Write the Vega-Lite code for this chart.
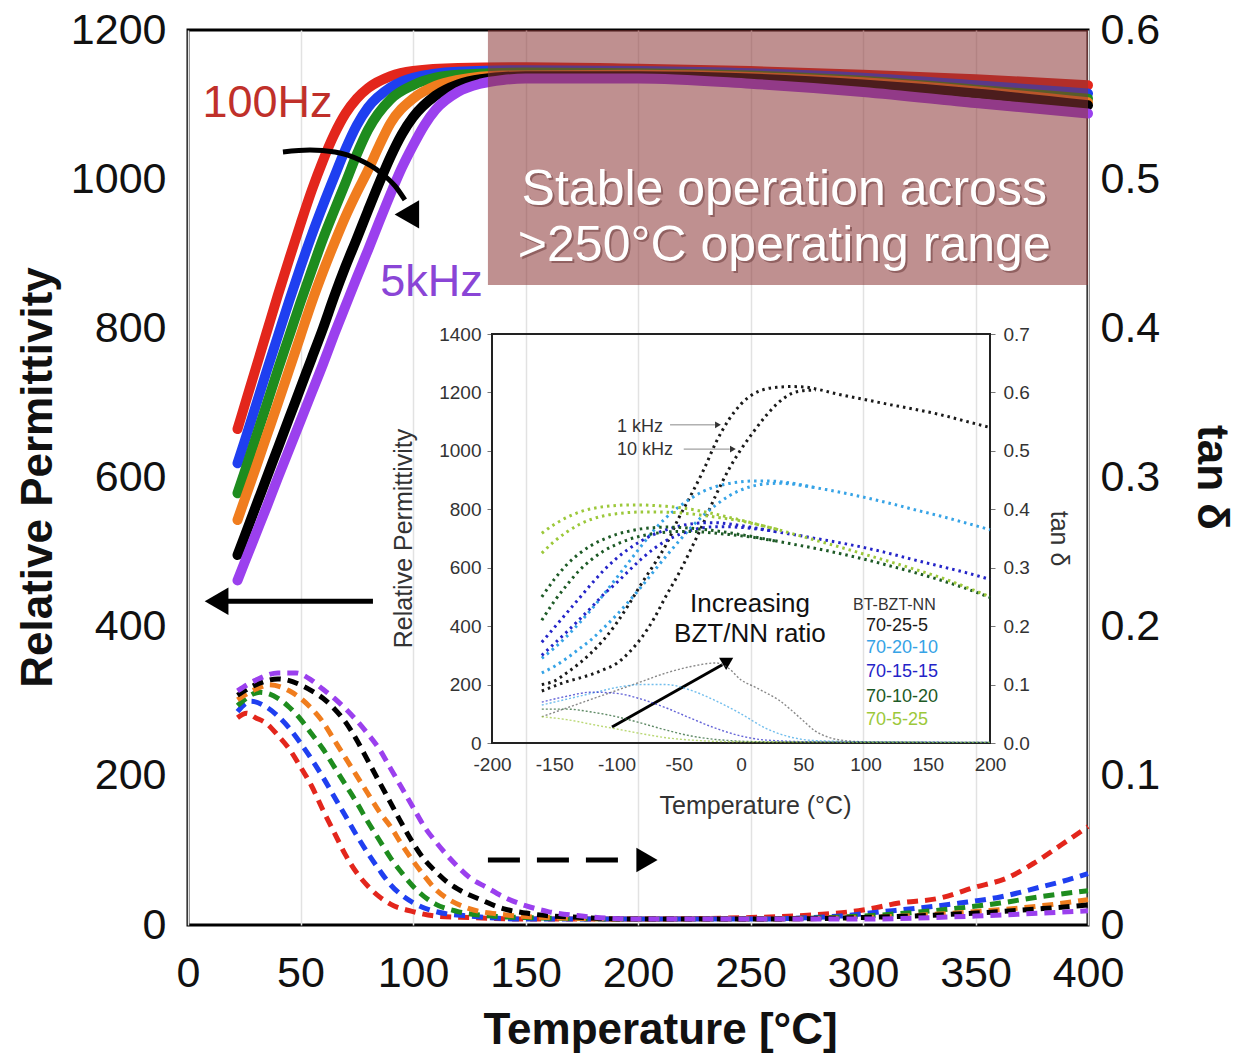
{
"$schema":"https://vega.github.io/schema/vega-lite/v6.json",
"width":900,"height":895,
"autosize":{"type":"none"},
"padding":{"left":188,"top":30,"right":148,"bottom":134},
"background":"white",
"config":{"font":"Liberation Sans","view":{"stroke":"#000","strokeWidth":3},"axis":{"labelFont":"Liberation Sans","titleFont":"Liberation Sans","labelColor":"#111","titleColor":"#111","labelFlush":false,"labelOverlap":false}},
"resolve":{"scale":{"x":"independent","y":"independent","color":"independent"}},
"datasets":{
"mainEps":[
{"s":"100Hz","T":22,"v":665},{"s":"100Hz","T":25,"v":695},{"s":"100Hz","T":30,"v":745},{"s":"100Hz","T":35,"v":795},{"s":"100Hz","T":40,"v":845},{"s":"100Hz","T":45,"v":893},{"s":"100Hz","T":50,"v":940},{"s":"100Hz","T":55,"v":985},{"s":"100Hz","T":60,"v":1025},{"s":"100Hz","T":65,"v":1060},{"s":"100Hz","T":70,"v":1088},{"s":"100Hz","T":75,"v":1108},{"s":"100Hz","T":80,"v":1122},{"s":"100Hz","T":90,"v":1138},{"s":"100Hz","T":100,"v":1145},{"s":"100Hz","T":120,"v":1149},{"s":"100Hz","T":150,"v":1150},{"s":"100Hz","T":200,"v":1148},{"s":"100Hz","T":250,"v":1145},{"s":"100Hz","T":300,"v":1140},{"s":"100Hz","T":350,"v":1134},{"s":"100Hz","T":400,"v":1126},
{"s":"f2","T":22,"v":619},{"s":"f2","T":25,"v":647},{"s":"f2","T":30,"v":695},{"s":"f2","T":35,"v":743},{"s":"f2","T":40,"v":790},{"s":"f2","T":45,"v":837},{"s":"f2","T":50,"v":882},{"s":"f2","T":55,"v":925},{"s":"f2","T":60,"v":965},{"s":"f2","T":65,"v":1003},{"s":"f2","T":70,"v":1040},{"s":"f2","T":75,"v":1072},{"s":"f2","T":80,"v":1096},{"s":"f2","T":90,"v":1123},{"s":"f2","T":100,"v":1136},{"s":"f2","T":120,"v":1144},{"s":"f2","T":150,"v":1146},{"s":"f2","T":200,"v":1145},{"s":"f2","T":250,"v":1142},{"s":"f2","T":300,"v":1136},{"s":"f2","T":350,"v":1126},{"s":"f2","T":400,"v":1115},
{"s":"f3","T":22,"v":579},{"s":"f3","T":25,"v":606},{"s":"f3","T":30,"v":652},{"s":"f3","T":35,"v":698},{"s":"f3","T":40,"v":745},{"s":"f3","T":45,"v":790},{"s":"f3","T":50,"v":835},{"s":"f3","T":55,"v":878},{"s":"f3","T":60,"v":920},{"s":"f3","T":65,"v":958},{"s":"f3","T":70,"v":995},{"s":"f3","T":75,"v":1033},{"s":"f3","T":80,"v":1066},{"s":"f3","T":90,"v":1107},{"s":"f3","T":100,"v":1126},{"s":"f3","T":110,"v":1136},{"s":"f3","T":120,"v":1140},{"s":"f3","T":150,"v":1143},{"s":"f3","T":200,"v":1142},{"s":"f3","T":250,"v":1139},{"s":"f3","T":300,"v":1132},{"s":"f3","T":350,"v":1120},{"s":"f3","T":400,"v":1108},
{"s":"f4","T":22,"v":543},{"s":"f4","T":25,"v":569},{"s":"f4","T":30,"v":612},{"s":"f4","T":35,"v":656},{"s":"f4","T":40,"v":700},{"s":"f4","T":45,"v":745},{"s":"f4","T":50,"v":790},{"s":"f4","T":55,"v":835},{"s":"f4","T":60,"v":876},{"s":"f4","T":65,"v":914},{"s":"f4","T":70,"v":950},{"s":"f4","T":75,"v":982},{"s":"f4","T":80,"v":1012},{"s":"f4","T":85,"v":1045},{"s":"f4","T":90,"v":1075},{"s":"f4","T":100,"v":1108},{"s":"f4","T":110,"v":1125},{"s":"f4","T":120,"v":1133},{"s":"f4","T":140,"v":1139},{"s":"f4","T":200,"v":1140},{"s":"f4","T":250,"v":1137},{"s":"f4","T":300,"v":1130},{"s":"f4","T":350,"v":1118},{"s":"f4","T":400,"v":1103},
{"s":"f5","T":22,"v":496},{"s":"f5","T":25,"v":520},{"s":"f5","T":30,"v":560},{"s":"f5","T":35,"v":600},{"s":"f5","T":40,"v":640},{"s":"f5","T":45,"v":680},{"s":"f5","T":50,"v":720},{"s":"f5","T":55,"v":760},{"s":"f5","T":60,"v":800},{"s":"f5","T":65,"v":843},{"s":"f5","T":70,"v":883},{"s":"f5","T":75,"v":920},{"s":"f5","T":80,"v":958},{"s":"f5","T":85,"v":995},{"s":"f5","T":90,"v":1030},{"s":"f5","T":95,"v":1060},{"s":"f5","T":100,"v":1083},{"s":"f5","T":110,"v":1112},{"s":"f5","T":120,"v":1127},{"s":"f5","T":130,"v":1134},{"s":"f5","T":150,"v":1138},{"s":"f5","T":200,"v":1138},{"s":"f5","T":250,"v":1135},{"s":"f5","T":300,"v":1127},{"s":"f5","T":350,"v":1115},{"s":"f5","T":400,"v":1099},
{"s":"5kHz","T":22,"v":462},{"s":"5kHz","T":25,"v":485},{"s":"5kHz","T":30,"v":523},{"s":"5kHz","T":35,"v":561},{"s":"5kHz","T":40,"v":600},{"s":"5kHz","T":45,"v":638},{"s":"5kHz","T":50,"v":676},{"s":"5kHz","T":55,"v":714},{"s":"5kHz","T":60,"v":752},{"s":"5kHz","T":65,"v":792},{"s":"5kHz","T":70,"v":830},{"s":"5kHz","T":75,"v":868},{"s":"5kHz","T":80,"v":905},{"s":"5kHz","T":85,"v":943},{"s":"5kHz","T":90,"v":980},{"s":"5kHz","T":95,"v":1015},{"s":"5kHz","T":100,"v":1045},{"s":"5kHz","T":105,"v":1072},{"s":"5kHz","T":110,"v":1093},{"s":"5kHz","T":120,"v":1117},{"s":"5kHz","T":130,"v":1128},{"s":"5kHz","T":140,"v":1133},{"s":"5kHz","T":150,"v":1135},{"s":"5kHz","T":200,"v":1135},{"s":"5kHz","T":250,"v":1128},{"s":"5kHz","T":300,"v":1117},{"s":"5kHz","T":350,"v":1102},{"s":"5kHz","T":400,"v":1088}
],
"mainTan":[
{"s":"100Hz","T":22,"t":0.139},{"s":"100Hz","T":26,"t":0.142},{"s":"100Hz","T":30,"t":0.139},{"s":"100Hz","T":35,"t":0.135},{"s":"100Hz","T":40,"t":0.127},{"s":"100Hz","T":45,"t":0.118},{"s":"100Hz","T":50,"t":0.106},{"s":"100Hz","T":55,"t":0.093},{"s":"100Hz","T":60,"t":0.077},{"s":"100Hz","T":65,"t":0.062},{"s":"100Hz","T":70,"t":0.047},{"s":"100Hz","T":75,"t":0.035},{"s":"100Hz","T":80,"t":0.026},{"s":"100Hz","T":85,"t":0.019},{"s":"100Hz","T":90,"t":0.014},{"s":"100Hz","T":100,"t":0.009},{"s":"100Hz","T":110,"t":0.006},{"s":"100Hz","T":125,"t":0.005},{"s":"100Hz","T":150,"t":0.004},{"s":"100Hz","T":200,"t":0.004},{"s":"100Hz","T":250,"t":0.005},{"s":"100Hz","T":280,"t":0.007},{"s":"100Hz","T":300,"t":0.010},{"s":"100Hz","T":316,"t":0.0147},{"s":"100Hz","T":334,"t":0.018},{"s":"100Hz","T":349,"t":0.025},{"s":"100Hz","T":364,"t":0.0315},{"s":"100Hz","T":376,"t":0.0415},{"s":"100Hz","T":388,"t":0.0536},{"s":"100Hz","T":400,"t":0.066},
{"s":"f2","T":22,"t":0.143},{"s":"f2","T":28,"t":0.150},{"s":"f2","T":35,"t":0.146},{"s":"f2","T":40,"t":0.140},{"s":"f2","T":45,"t":0.132},{"s":"f2","T":50,"t":0.122},{"s":"f2","T":55,"t":0.111},{"s":"f2","T":60,"t":0.099},{"s":"f2","T":65,"t":0.086},{"s":"f2","T":70,"t":0.073},{"s":"f2","T":75,"t":0.060},{"s":"f2","T":80,"t":0.048},{"s":"f2","T":85,"t":0.037},{"s":"f2","T":90,"t":0.027},{"s":"f2","T":95,"t":0.020},{"s":"f2","T":100,"t":0.015},{"s":"f2","T":110,"t":0.009},{"s":"f2","T":125,"t":0.006},{"s":"f2","T":150,"t":0.004},{"s":"f2","T":200,"t":0.004},{"s":"f2","T":250,"t":0.004},{"s":"f2","T":290,"t":0.006},{"s":"f2","T":307,"t":0.0087},{"s":"f2","T":325,"t":0.0114},{"s":"f2","T":343,"t":0.0147},{"s":"f2","T":361,"t":0.0188},{"s":"f2","T":379,"t":0.0255},{"s":"f2","T":388,"t":0.029},{"s":"f2","T":400,"t":0.0345},
{"s":"f3","T":22,"t":0.147},{"s":"f3","T":32,"t":0.156},{"s":"f3","T":40,"t":0.152},{"s":"f3","T":45,"t":0.146},{"s":"f3","T":50,"t":0.138},{"s":"f3","T":55,"t":0.128},{"s":"f3","T":60,"t":0.118},{"s":"f3","T":65,"t":0.106},{"s":"f3","T":70,"t":0.094},{"s":"f3","T":75,"t":0.082},{"s":"f3","T":80,"t":0.069},{"s":"f3","T":85,"t":0.057},{"s":"f3","T":90,"t":0.045},{"s":"f3","T":95,"t":0.035},{"s":"f3","T":100,"t":0.026},{"s":"f3","T":105,"t":0.019},{"s":"f3","T":110,"t":0.014},{"s":"f3","T":120,"t":0.009},{"s":"f3","T":135,"t":0.006},{"s":"f3","T":150,"t":0.005},{"s":"f3","T":200,"t":0.004},{"s":"f3","T":250,"t":0.004},{"s":"f3","T":300,"t":0.006},{"s":"f3","T":343,"t":0.0114},{"s":"f3","T":361,"t":0.0147},{"s":"f3","T":378,"t":0.0188},{"s":"f3","T":400,"t":0.023},
{"s":"f4","T":22,"t":0.151},{"s":"f4","T":30,"t":0.158},{"s":"f4","T":36,"t":0.161},{"s":"f4","T":45,"t":0.157},{"s":"f4","T":50,"t":0.152},{"s":"f4","T":55,"t":0.145},{"s":"f4","T":60,"t":0.136},{"s":"f4","T":65,"t":0.124},{"s":"f4","T":70,"t":0.112},{"s":"f4","T":75,"t":0.100},{"s":"f4","T":80,"t":0.088},{"s":"f4","T":85,"t":0.076},{"s":"f4","T":90,"t":0.066},{"s":"f4","T":95,"t":0.054},{"s":"f4","T":100,"t":0.043},{"s":"f4","T":105,"t":0.033},{"s":"f4","T":110,"t":0.024},{"s":"f4","T":115,"t":0.018},{"s":"f4","T":125,"t":0.011},{"s":"f4","T":140,"t":0.007},{"s":"f4","T":160,"t":0.005},{"s":"f4","T":200,"t":0.004},{"s":"f4","T":250,"t":0.004},{"s":"f4","T":300,"t":0.005},{"s":"f4","T":350,"t":0.009},{"s":"f4","T":380,"t":0.013},{"s":"f4","T":400,"t":0.017},
{"s":"f5","T":22,"t":0.154},{"s":"f5","T":30,"t":0.161},{"s":"f5","T":40,"t":0.165},{"s":"f5","T":50,"t":0.161},{"s":"f5","T":55,"t":0.157},{"s":"f5","T":60,"t":0.152},{"s":"f5","T":65,"t":0.145},{"s":"f5","T":70,"t":0.136},{"s":"f5","T":75,"t":0.124},{"s":"f5","T":80,"t":0.110},{"s":"f5","T":85,"t":0.096},{"s":"f5","T":90,"t":0.082},{"s":"f5","T":95,"t":0.068},{"s":"f5","T":100,"t":0.055},{"s":"f5","T":105,"t":0.044},{"s":"f5","T":110,"t":0.036},{"s":"f5","T":115,"t":0.029},{"s":"f5","T":120,"t":0.024},{"s":"f5","T":130,"t":0.017},{"s":"f5","T":140,"t":0.011},{"s":"f5","T":150,"t":0.008},{"s":"f5","T":175,"t":0.005},{"s":"f5","T":200,"t":0.004},{"s":"f5","T":250,"t":0.004},{"s":"f5","T":300,"t":0.005},{"s":"f5","T":350,"t":0.008},{"s":"f5","T":380,"t":0.011},{"s":"f5","T":400,"t":0.0134},
{"s":"5kHz","T":22,"t":0.157},{"s":"5kHz","T":30,"t":0.164},{"s":"5kHz","T":40,"t":0.169},{"s":"5kHz","T":48,"t":0.169},{"s":"5kHz","T":55,"t":0.164},{"s":"5kHz","T":60,"t":0.158},{"s":"5kHz","T":65,"t":0.152},{"s":"5kHz","T":70,"t":0.145},{"s":"5kHz","T":75,"t":0.137},{"s":"5kHz","T":80,"t":0.128},{"s":"5kHz","T":85,"t":0.118},{"s":"5kHz","T":90,"t":0.105},{"s":"5kHz","T":95,"t":0.092},{"s":"5kHz","T":100,"t":0.079},{"s":"5kHz","T":105,"t":0.066},{"s":"5kHz","T":110,"t":0.056},{"s":"5kHz","T":115,"t":0.047},{"s":"5kHz","T":120,"t":0.039},{"s":"5kHz","T":125,"t":0.032},{"s":"5kHz","T":133,"t":0.025},{"s":"5kHz","T":140,"t":0.019},{"s":"5kHz","T":150,"t":0.013},{"s":"5kHz","T":160,"t":0.009},{"s":"5kHz","T":175,"t":0.006},{"s":"5kHz","T":200,"t":0.004},{"s":"5kHz","T":250,"t":0.004},{"s":"5kHz","T":300,"t":0.004},{"s":"5kHz","T":350,"t":0.006},{"s":"5kHz","T":380,"t":0.008},{"s":"5kHz","T":400,"t":0.0095}
],
"insetEps":[
{"c":"70-25-5","f":"1k","Ti":-160,"e":200},{"c":"70-25-5","f":"1k","Ti":-150,"e":212},{"c":"70-25-5","f":"1k","Ti":-140,"e":240},{"c":"70-25-5","f":"1k","Ti":-130,"e":272},{"c":"70-25-5","f":"1k","Ti":-120,"e":310},{"c":"70-25-5","f":"1k","Ti":-110,"e":355},{"c":"70-25-5","f":"1k","Ti":-100,"e":410},{"c":"70-25-5","f":"1k","Ti":-90,"e":475},{"c":"70-25-5","f":"1k","Ti":-80,"e":545},{"c":"70-25-5","f":"1k","Ti":-70,"e":610},{"c":"70-25-5","f":"1k","Ti":-60,"e":680},{"c":"70-25-5","f":"1k","Ti":-50,"e":770},{"c":"70-25-5","f":"1k","Ti":-40,"e":850},{"c":"70-25-5","f":"1k","Ti":-30,"e":935},{"c":"70-25-5","f":"1k","Ti":-20,"e":1030},{"c":"70-25-5","f":"1k","Ti":-10,"e":1105},{"c":"70-25-5","f":"1k","Ti":0,"e":1160},{"c":"70-25-5","f":"1k","Ti":10,"e":1195},{"c":"70-25-5","f":"1k","Ti":20,"e":1212},{"c":"70-25-5","f":"1k","Ti":30,"e":1218},{"c":"70-25-5","f":"1k","Ti":40,"e":1220},{"c":"70-25-5","f":"1k","Ti":50,"e":1219},{"c":"70-25-5","f":"1k","Ti":60,"e":1212},{"c":"70-25-5","f":"1k","Ti":80,"e":1192},{"c":"70-25-5","f":"1k","Ti":100,"e":1175},{"c":"70-25-5","f":"1k","Ti":120,"e":1158},{"c":"70-25-5","f":"1k","Ti":140,"e":1142},{"c":"70-25-5","f":"1k","Ti":160,"e":1124},{"c":"70-25-5","f":"1k","Ti":180,"e":1102},{"c":"70-25-5","f":"1k","Ti":200,"e":1080},
{"c":"70-25-5","f":"10k","Ti":-160,"e":178},{"c":"70-25-5","f":"10k","Ti":-150,"e":195},{"c":"70-25-5","f":"10k","Ti":-140,"e":210},{"c":"70-25-5","f":"10k","Ti":-130,"e":222},{"c":"70-25-5","f":"10k","Ti":-120,"e":235},{"c":"70-25-5","f":"10k","Ti":-110,"e":252},{"c":"70-25-5","f":"10k","Ti":-100,"e":272},{"c":"70-25-5","f":"10k","Ti":-90,"e":310},{"c":"70-25-5","f":"10k","Ti":-80,"e":360},{"c":"70-25-5","f":"10k","Ti":-70,"e":425},{"c":"70-25-5","f":"10k","Ti":-60,"e":505},{"c":"70-25-5","f":"10k","Ti":-50,"e":580},{"c":"70-25-5","f":"10k","Ti":-40,"e":665},{"c":"70-25-5","f":"10k","Ti":-30,"e":755},{"c":"70-25-5","f":"10k","Ti":-20,"e":850},{"c":"70-25-5","f":"10k","Ti":-10,"e":935},{"c":"70-25-5","f":"10k","Ti":0,"e":1005},{"c":"70-25-5","f":"10k","Ti":10,"e":1065},{"c":"70-25-5","f":"10k","Ti":20,"e":1120},{"c":"70-25-5","f":"10k","Ti":30,"e":1165},{"c":"70-25-5","f":"10k","Ti":40,"e":1195},{"c":"70-25-5","f":"10k","Ti":50,"e":1206},{"c":"70-25-5","f":"10k","Ti":60,"e":1208},
{"c":"70-20-10","f":"1k","Ti":-160,"e":290},{"c":"70-20-10","f":"1k","Ti":-150,"e":325},{"c":"70-20-10","f":"1k","Ti":-140,"e":365},{"c":"70-20-10","f":"1k","Ti":-130,"e":410},{"c":"70-20-10","f":"1k","Ti":-120,"e":458},{"c":"70-20-10","f":"1k","Ti":-110,"e":510},{"c":"70-20-10","f":"1k","Ti":-100,"e":565},{"c":"70-20-10","f":"1k","Ti":-90,"e":620},{"c":"70-20-10","f":"1k","Ti":-80,"e":675},{"c":"70-20-10","f":"1k","Ti":-70,"e":728},{"c":"70-20-10","f":"1k","Ti":-60,"e":772},{"c":"70-20-10","f":"1k","Ti":-50,"e":808},{"c":"70-20-10","f":"1k","Ti":-40,"e":838},{"c":"70-20-10","f":"1k","Ti":-30,"e":862},{"c":"70-20-10","f":"1k","Ti":-20,"e":878},{"c":"70-20-10","f":"1k","Ti":-10,"e":888},{"c":"70-20-10","f":"1k","Ti":0,"e":894},{"c":"70-20-10","f":"1k","Ti":10,"e":897},{"c":"70-20-10","f":"1k","Ti":20,"e":897},{"c":"70-20-10","f":"1k","Ti":30,"e":895},{"c":"70-20-10","f":"1k","Ti":40,"e":890},{"c":"70-20-10","f":"1k","Ti":50,"e":882},{"c":"70-20-10","f":"1k","Ti":60,"e":874},{"c":"70-20-10","f":"1k","Ti":80,"e":858},{"c":"70-20-10","f":"1k","Ti":100,"e":840},{"c":"70-20-10","f":"1k","Ti":120,"e":820},{"c":"70-20-10","f":"1k","Ti":140,"e":798},{"c":"70-20-10","f":"1k","Ti":160,"e":777},{"c":"70-20-10","f":"1k","Ti":180,"e":754},{"c":"70-20-10","f":"1k","Ti":200,"e":730},
{"c":"70-20-10","f":"10k","Ti":-160,"e":240},{"c":"70-20-10","f":"10k","Ti":-150,"e":262},{"c":"70-20-10","f":"10k","Ti":-140,"e":290},{"c":"70-20-10","f":"10k","Ti":-130,"e":322},{"c":"70-20-10","f":"10k","Ti":-120,"e":355},{"c":"70-20-10","f":"10k","Ti":-110,"e":395},{"c":"70-20-10","f":"10k","Ti":-100,"e":438},{"c":"70-20-10","f":"10k","Ti":-90,"e":485},{"c":"70-20-10","f":"10k","Ti":-80,"e":535},{"c":"70-20-10","f":"10k","Ti":-70,"e":588},{"c":"70-20-10","f":"10k","Ti":-60,"e":640},{"c":"70-20-10","f":"10k","Ti":-50,"e":690},{"c":"70-20-10","f":"10k","Ti":-40,"e":738},{"c":"70-20-10","f":"10k","Ti":-30,"e":780},{"c":"70-20-10","f":"10k","Ti":-20,"e":815},{"c":"70-20-10","f":"10k","Ti":-10,"e":845},{"c":"70-20-10","f":"10k","Ti":0,"e":866},{"c":"70-20-10","f":"10k","Ti":10,"e":880},{"c":"70-20-10","f":"10k","Ti":20,"e":887},{"c":"70-20-10","f":"10k","Ti":30,"e":889},{"c":"70-20-10","f":"10k","Ti":40,"e":887},{"c":"70-20-10","f":"10k","Ti":50,"e":881},{"c":"70-20-10","f":"10k","Ti":60,"e":874},
{"c":"70-15-15","f":"1k","Ti":-160,"e":345},{"c":"70-15-15","f":"1k","Ti":-150,"e":395},{"c":"70-15-15","f":"1k","Ti":-140,"e":445},{"c":"70-15-15","f":"1k","Ti":-130,"e":495},{"c":"70-15-15","f":"1k","Ti":-120,"e":545},{"c":"70-15-15","f":"1k","Ti":-110,"e":592},{"c":"70-15-15","f":"1k","Ti":-100,"e":632},{"c":"70-15-15","f":"1k","Ti":-90,"e":665},{"c":"70-15-15","f":"1k","Ti":-80,"e":692},{"c":"70-15-15","f":"1k","Ti":-70,"e":714},{"c":"70-15-15","f":"1k","Ti":-60,"e":730},{"c":"70-15-15","f":"1k","Ti":-50,"e":742},{"c":"70-15-15","f":"1k","Ti":-40,"e":750},{"c":"70-15-15","f":"1k","Ti":-30,"e":754},{"c":"70-15-15","f":"1k","Ti":-20,"e":754},{"c":"70-15-15","f":"1k","Ti":-10,"e":750},{"c":"70-15-15","f":"1k","Ti":0,"e":744},{"c":"70-15-15","f":"1k","Ti":10,"e":737},{"c":"70-15-15","f":"1k","Ti":20,"e":730},{"c":"70-15-15","f":"1k","Ti":30,"e":722},{"c":"70-15-15","f":"1k","Ti":40,"e":715},{"c":"70-15-15","f":"1k","Ti":50,"e":708},{"c":"70-15-15","f":"1k","Ti":60,"e":700},{"c":"70-15-15","f":"1k","Ti":80,"e":685},{"c":"70-15-15","f":"1k","Ti":100,"e":668},{"c":"70-15-15","f":"1k","Ti":120,"e":648},{"c":"70-15-15","f":"1k","Ti":140,"e":626},{"c":"70-15-15","f":"1k","Ti":160,"e":605},{"c":"70-15-15","f":"1k","Ti":180,"e":584},{"c":"70-15-15","f":"1k","Ti":200,"e":560},
{"c":"70-15-15","f":"10k","Ti":-160,"e":300},{"c":"70-15-15","f":"10k","Ti":-150,"e":340},{"c":"70-15-15","f":"10k","Ti":-140,"e":380},{"c":"70-15-15","f":"10k","Ti":-130,"e":422},{"c":"70-15-15","f":"10k","Ti":-120,"e":465},{"c":"70-15-15","f":"10k","Ti":-110,"e":510},{"c":"70-15-15","f":"10k","Ti":-100,"e":548},{"c":"70-15-15","f":"10k","Ti":-90,"e":590},{"c":"70-15-15","f":"10k","Ti":-80,"e":630},{"c":"70-15-15","f":"10k","Ti":-70,"e":665},{"c":"70-15-15","f":"10k","Ti":-60,"e":693},{"c":"70-15-15","f":"10k","Ti":-50,"e":713},{"c":"70-15-15","f":"10k","Ti":-40,"e":728},{"c":"70-15-15","f":"10k","Ti":-30,"e":737},{"c":"70-15-15","f":"10k","Ti":-20,"e":740},{"c":"70-15-15","f":"10k","Ti":-10,"e":740},{"c":"70-15-15","f":"10k","Ti":0,"e":738},{"c":"70-15-15","f":"10k","Ti":10,"e":734},{"c":"70-15-15","f":"10k","Ti":20,"e":729},{"c":"70-15-15","f":"10k","Ti":30,"e":722},
{"c":"70-10-20","f":"1k","Ti":-160,"e":500},{"c":"70-10-20","f":"1k","Ti":-150,"e":560},{"c":"70-10-20","f":"1k","Ti":-140,"e":610},{"c":"70-10-20","f":"1k","Ti":-130,"e":648},{"c":"70-10-20","f":"1k","Ti":-120,"e":677},{"c":"70-10-20","f":"1k","Ti":-110,"e":698},{"c":"70-10-20","f":"1k","Ti":-100,"e":714},{"c":"70-10-20","f":"1k","Ti":-90,"e":725},{"c":"70-10-20","f":"1k","Ti":-80,"e":733},{"c":"70-10-20","f":"1k","Ti":-70,"e":737},{"c":"70-10-20","f":"1k","Ti":-60,"e":739},{"c":"70-10-20","f":"1k","Ti":-50,"e":738},{"c":"70-10-20","f":"1k","Ti":-40,"e":735},{"c":"70-10-20","f":"1k","Ti":-30,"e":731},{"c":"70-10-20","f":"1k","Ti":-20,"e":726},{"c":"70-10-20","f":"1k","Ti":-10,"e":720},{"c":"70-10-20","f":"1k","Ti":0,"e":713},{"c":"70-10-20","f":"1k","Ti":10,"e":706},{"c":"70-10-20","f":"1k","Ti":20,"e":698},{"c":"70-10-20","f":"1k","Ti":30,"e":690},{"c":"70-10-20","f":"1k","Ti":40,"e":682},{"c":"70-10-20","f":"1k","Ti":50,"e":674},{"c":"70-10-20","f":"1k","Ti":60,"e":666},{"c":"70-10-20","f":"1k","Ti":80,"e":648},{"c":"70-10-20","f":"1k","Ti":100,"e":628},{"c":"70-10-20","f":"1k","Ti":120,"e":606},{"c":"70-10-20","f":"1k","Ti":140,"e":583},{"c":"70-10-20","f":"1k","Ti":160,"e":558},{"c":"70-10-20","f":"1k","Ti":180,"e":530},{"c":"70-10-20","f":"1k","Ti":200,"e":498},
{"c":"70-10-20","f":"10k","Ti":-160,"e":420},{"c":"70-10-20","f":"10k","Ti":-150,"e":485},{"c":"70-10-20","f":"10k","Ti":-140,"e":540},{"c":"70-10-20","f":"10k","Ti":-130,"e":590},{"c":"70-10-20","f":"10k","Ti":-120,"e":628},{"c":"70-10-20","f":"10k","Ti":-110,"e":658},{"c":"70-10-20","f":"10k","Ti":-100,"e":680},{"c":"70-10-20","f":"10k","Ti":-90,"e":697},{"c":"70-10-20","f":"10k","Ti":-80,"e":709},{"c":"70-10-20","f":"10k","Ti":-70,"e":717},{"c":"70-10-20","f":"10k","Ti":-60,"e":722},{"c":"70-10-20","f":"10k","Ti":-50,"e":724},{"c":"70-10-20","f":"10k","Ti":-40,"e":724},{"c":"70-10-20","f":"10k","Ti":-30,"e":722},{"c":"70-10-20","f":"10k","Ti":-20,"e":718},{"c":"70-10-20","f":"10k","Ti":-10,"e":714},{"c":"70-10-20","f":"10k","Ti":0,"e":709},{"c":"70-10-20","f":"10k","Ti":10,"e":704},{"c":"70-10-20","f":"10k","Ti":20,"e":697},{"c":"70-10-20","f":"10k","Ti":30,"e":690},
{"c":"70-5-25","f":"1k","Ti":-160,"e":718},{"c":"70-5-25","f":"1k","Ti":-150,"e":748},{"c":"70-5-25","f":"1k","Ti":-140,"e":772},{"c":"70-5-25","f":"1k","Ti":-130,"e":790},{"c":"70-5-25","f":"1k","Ti":-120,"e":802},{"c":"70-5-25","f":"1k","Ti":-110,"e":809},{"c":"70-5-25","f":"1k","Ti":-100,"e":813},{"c":"70-5-25","f":"1k","Ti":-90,"e":815},{"c":"70-5-25","f":"1k","Ti":-80,"e":815},{"c":"70-5-25","f":"1k","Ti":-70,"e":813},{"c":"70-5-25","f":"1k","Ti":-60,"e":810},{"c":"70-5-25","f":"1k","Ti":-50,"e":806},{"c":"70-5-25","f":"1k","Ti":-40,"e":800},{"c":"70-5-25","f":"1k","Ti":-30,"e":792},{"c":"70-5-25","f":"1k","Ti":-20,"e":783},{"c":"70-5-25","f":"1k","Ti":-10,"e":773},{"c":"70-5-25","f":"1k","Ti":0,"e":763},{"c":"70-5-25","f":"1k","Ti":10,"e":752},{"c":"70-5-25","f":"1k","Ti":20,"e":741},{"c":"70-5-25","f":"1k","Ti":30,"e":730},{"c":"70-5-25","f":"1k","Ti":40,"e":718},{"c":"70-5-25","f":"1k","Ti":50,"e":706},{"c":"70-5-25","f":"1k","Ti":60,"e":694},{"c":"70-5-25","f":"1k","Ti":80,"e":670},{"c":"70-5-25","f":"1k","Ti":100,"e":645},{"c":"70-5-25","f":"1k","Ti":120,"e":620},{"c":"70-5-25","f":"1k","Ti":140,"e":594},{"c":"70-5-25","f":"1k","Ti":160,"e":567},{"c":"70-5-25","f":"1k","Ti":180,"e":535},{"c":"70-5-25","f":"1k","Ti":200,"e":500},
{"c":"70-5-25","f":"10k","Ti":-160,"e":650},{"c":"70-5-25","f":"10k","Ti":-150,"e":690},{"c":"70-5-25","f":"10k","Ti":-140,"e":722},{"c":"70-5-25","f":"10k","Ti":-130,"e":748},{"c":"70-5-25","f":"10k","Ti":-120,"e":766},{"c":"70-5-25","f":"10k","Ti":-110,"e":778},{"c":"70-5-25","f":"10k","Ti":-100,"e":785},{"c":"70-5-25","f":"10k","Ti":-90,"e":789},{"c":"70-5-25","f":"10k","Ti":-80,"e":791},{"c":"70-5-25","f":"10k","Ti":-70,"e":791},{"c":"70-5-25","f":"10k","Ti":-60,"e":790},{"c":"70-5-25","f":"10k","Ti":-50,"e":788},{"c":"70-5-25","f":"10k","Ti":-40,"e":784},{"c":"70-5-25","f":"10k","Ti":-30,"e":779},{"c":"70-5-25","f":"10k","Ti":-20,"e":773},{"c":"70-5-25","f":"10k","Ti":-10,"e":767},{"c":"70-5-25","f":"10k","Ti":0,"e":760},{"c":"70-5-25","f":"10k","Ti":10,"e":751},{"c":"70-5-25","f":"10k","Ti":20,"e":741},{"c":"70-5-25","f":"10k","Ti":30,"e":730}
],
"insetTan":[
{"c":"70-25-5","Ti":-160,"t":0.045},{"c":"70-25-5","Ti":-140,"t":0.06},{"c":"70-25-5","Ti":-120,"t":0.075},{"c":"70-25-5","Ti":-100,"t":0.09},{"c":"70-25-5","Ti":-80,"t":0.105},{"c":"70-25-5","Ti":-60,"t":0.12},{"c":"70-25-5","Ti":-40,"t":0.131},{"c":"70-25-5","Ti":-20,"t":0.137},{"c":"70-25-5","Ti":-10,"t":0.128},{"c":"70-25-5","Ti":0,"t":0.108},{"c":"70-25-5","Ti":10,"t":0.097},{"c":"70-25-5","Ti":20,"t":0.086},{"c":"70-25-5","Ti":30,"t":0.074},{"c":"70-25-5","Ti":40,"t":0.057},{"c":"70-25-5","Ti":50,"t":0.038},{"c":"70-25-5","Ti":60,"t":0.02},{"c":"70-25-5","Ti":70,"t":0.01},{"c":"70-25-5","Ti":80,"t":0.005},{"c":"70-25-5","Ti":100,"t":0.002},{"c":"70-25-5","Ti":150,"t":0.001},{"c":"70-25-5","Ti":200,"t":0.001},
{"c":"70-20-10","Ti":-160,"t":0.065},{"c":"70-20-10","Ti":-140,"t":0.075},{"c":"70-20-10","Ti":-120,"t":0.085},{"c":"70-20-10","Ti":-100,"t":0.095},{"c":"70-20-10","Ti":-80,"t":0.1},{"c":"70-20-10","Ti":-60,"t":0.1},{"c":"70-20-10","Ti":-40,"t":0.09},{"c":"70-20-10","Ti":-20,"t":0.072},{"c":"70-20-10","Ti":0,"t":0.05},{"c":"70-20-10","Ti":20,"t":0.025},{"c":"70-20-10","Ti":40,"t":0.01},{"c":"70-20-10","Ti":60,"t":0.004},{"c":"70-20-10","Ti":100,"t":0.002},{"c":"70-20-10","Ti":200,"t":0.001},
{"c":"70-15-15","Ti":-160,"t":0.07},{"c":"70-15-15","Ti":-140,"t":0.08},{"c":"70-15-15","Ti":-120,"t":0.087},{"c":"70-15-15","Ti":-100,"t":0.085},{"c":"70-15-15","Ti":-80,"t":0.075},{"c":"70-15-15","Ti":-60,"t":0.06},{"c":"70-15-15","Ti":-40,"t":0.042},{"c":"70-15-15","Ti":-20,"t":0.025},{"c":"70-15-15","Ti":0,"t":0.012},{"c":"70-15-15","Ti":20,"t":0.005},{"c":"70-15-15","Ti":60,"t":0.002},{"c":"70-15-15","Ti":200,"t":0.001},
{"c":"70-10-20","Ti":-160,"t":0.058},{"c":"70-10-20","Ti":-140,"t":0.058},{"c":"70-10-20","Ti":-120,"t":0.053},{"c":"70-10-20","Ti":-100,"t":0.045},{"c":"70-10-20","Ti":-80,"t":0.034},{"c":"70-10-20","Ti":-60,"t":0.022},{"c":"70-10-20","Ti":-40,"t":0.012},{"c":"70-10-20","Ti":-20,"t":0.006},{"c":"70-10-20","Ti":20,"t":0.002},{"c":"70-10-20","Ti":200,"t":0.001},
{"c":"70-5-25","Ti":-160,"t":0.045},{"c":"70-5-25","Ti":-140,"t":0.04},{"c":"70-5-25","Ti":-120,"t":0.032},{"c":"70-5-25","Ti":-100,"t":0.024},{"c":"70-5-25","Ti":-80,"t":0.016},{"c":"70-5-25","Ti":-60,"t":0.009},{"c":"70-5-25","Ti":-40,"t":0.005},{"c":"70-5-25","Ti":0,"t":0.002},{"c":"70-5-25","Ti":200,"t":0.001}
]
},
"layer":[
{
 "data":{"name":"mainTan"},
 "mark":{"type":"line","strokeWidth":5,"strokeDash":[11,7],"interpolate":"monotone"},
 "encoding":{
  "x":{"field":"T","type":"quantitative","scale":{"domain":[0,400],"nice":false,"zero":false},"axis":null},
  "y":{"field":"t","type":"quantitative","scale":{"domain":[0,0.6],"nice":false},"axis":{"orient":"right","values":[0,0.1,0.2,0.3,0.4,0.5,0.6],"labelExpr":"datum.value == 0 ? '0' : format(datum.value, '.1f')","labelFontSize":43,"labelPadding":12,"ticks":false,"domain":false,"grid":false,"title":"tan δ","titleFontSize":44,"titleFontWeight":"bold","titleAngle":90,"titleX":122,"titleY":447,"titleBaseline":"middle","titleAlign":"center"}},
  "color":{"field":"s","type":"nominal","scale":{"domain":["100Hz","f2","f3","f4","f5","5kHz"],"range":["#e3261c","#1f3ff0","#1e8c1e","#f07d1e","#000000","#9b40ee"]},"legend":null}
 }
},
{
 "layer":[
  {
   "data":{"name":"mainEps"},
   "mark":{"type":"line","strokeWidth":10,"strokeCap":"round","interpolate":"monotone"},
   "encoding":{
    "x":{"field":"T","type":"quantitative","scale":{"domain":[0,400],"nice":false,"zero":false},"axis":{"orient":"bottom","values":[0,50,100,150,200,250,300,350,400],"format":"d","labelFontSize":43,"labelPadding":27,"ticks":false,"domain":false,"grid":true,"gridColor":"#e2e2e2","gridWidth":1.5,"title":"Temperature [°C]","titleFontSize":44,"titleFontWeight":"bold","titleX":472,"titleY":105,"titleBaseline":"middle","titleAlign":"center"}},
    "y":{"field":"v","type":"quantitative","scale":{"domain":[0,1200],"nice":false},"axis":{"orient":"left","values":[0,200,400,600,800,1000,1200],"format":"d","labelFontSize":43,"labelPadding":22,"ticks":false,"domain":false,"grid":false,"title":"Relative Permittivity","titleFontSize":44,"titleFontWeight":"bold","titleX":-150,"titleY":447,"titleBaseline":"middle","titleAlign":"center"}},
    "color":{"field":"s","type":"nominal","scale":{"domain":["100Hz","f2","f3","f4","f5","5kHz"],"range":["#e3261c","#1f3ff0","#1e8c1e","#f07d1e","#000000","#9b40ee"]},"legend":null}
   }
  },
  {
   "data":{"values":[{"T":133.3,"T2":400,"v":858,"v2":1200}]},
   "mark":{"type":"rect","color":"#8b3535","opacity":0.55},
   "encoding":{"x":{"field":"T","type":"quantitative"},"x2":{"field":"T2"},"y":{"field":"v","type":"quantitative"},"y2":{"field":"v2"}}
  },
  {
   "data":{"values":[{"T":265,"v":965,"label":"Stable operation across"},{"T":265,"v":890,"label":">250°C operating range"}]},
   "mark":{"type":"text","fontSize":50,"color":"#5a2a2a","opacity":0.45,"align":"center","baseline":"alphabetic","dx":2,"dy":2},
   "encoding":{"x":{"field":"T","type":"quantitative"},"y":{"field":"v","type":"quantitative"},"text":{"field":"label"}}
  },
  {
   "data":{"values":[{"T":265,"v":965,"label":"Stable operation across"},{"T":265,"v":890,"label":">250°C operating range"}]},
   "mark":{"type":"text","fontSize":50,"color":"#ffffff","align":"center","baseline":"alphabetic"},
   "encoding":{"x":{"field":"T","type":"quantitative"},"y":{"field":"v","type":"quantitative"},"text":{"field":"label"}}
  },
  {
   "data":{"values":[{"T":35.3,"v":1083,"label":"100Hz"}]},
   "mark":{"type":"text","fontSize":45,"color":"#c0302a","align":"center","baseline":"alphabetic"},
   "encoding":{"x":{"field":"T","type":"quantitative"},"y":{"field":"v","type":"quantitative"},"text":{"field":"label"}}
  },
  {
   "data":{"values":[{"T":108.2,"v":843,"label":"5kHz"}]},
   "mark":{"type":"text","fontSize":45,"color":"#8a45d6","align":"center","baseline":"alphabetic"},
   "encoding":{"x":{"field":"T","type":"quantitative"},"y":{"field":"v","type":"quantitative"},"text":{"field":"label"}}
  },
  {
   "data":{"values":[{"T":42.2,"v":1036.5},{"T":54.2,"v":1039.1},{"T":65.3,"v":1036.5},{"T":76.4,"v":1025.7},{"T":85.3,"v":1009.7},{"T":92,"v":990.9},{"T":96.4,"v":972.1}]},
   "mark":{"type":"line","color":"#000","strokeWidth":5,"interpolate":"monotone"},
   "encoding":{"x":{"field":"T","type":"quantitative"},"y":{"field":"v","type":"quantitative"}}
  },
  {
   "data":{"values":[{"T":100,"v":948}]},
   "mark":{"type":"point","shape":"triangle-right","filled":true,"color":"#000","opacity":1,"size":800,"angle":60},
   "encoding":{"x":{"field":"T","type":"quantitative"},"y":{"field":"v","type":"quantitative"}}
  },
  {
   "data":{"values":[{"T":14,"v":434},{"T":82.2,"v":434}]},
   "mark":{"type":"line","color":"#000","strokeWidth":5},
   "encoding":{"x":{"field":"T","type":"quantitative"},"y":{"field":"v","type":"quantitative"}}
  },
  {
   "data":{"values":[{"T":12.7,"v":434}]},
   "mark":{"type":"point","shape":"triangle-left","filled":true,"color":"#000","opacity":1,"size":750},
   "encoding":{"x":{"field":"T","type":"quantitative"},"y":{"field":"v","type":"quantitative"}}
  },
  {
   "data":{"values":[{"T":133.3,"v":87},{"T":198,"v":87}]},
   "mark":{"type":"line","color":"#000","strokeWidth":5,"strokeDash":[32,17]},
   "encoding":{"x":{"field":"T","type":"quantitative"},"y":{"field":"v","type":"quantitative"}}
  },
  {
   "data":{"values":[{"T":204,"v":87}]},
   "mark":{"type":"point","shape":"triangle-right","filled":true,"color":"#000","opacity":1,"size":600},
   "encoding":{"x":{"field":"T","type":"quantitative"},"y":{"field":"v","type":"quantitative"}}
  }
 ]
},
{
 "layer":[
  {
   "data":{"values":[{"Ti":-200,"Ti2":200,"e":0,"e2":1400}]},
   "mark":{"type":"rect","fill":"transparent","stroke":"#222","strokeWidth":2},
   "encoding":{
    "x":{"field":"Ti","type":"quantitative","scale":{"domain":[-200,200],"range":[304,802],"nice":false,"zero":false},"axis":{"orient":"bottom","offset":-182,"values":[-200,-150,-100,-50,0,50,100,150,200],"labelExpr":"(datum.value < 0 ? '-' : '') + abs(datum.value)","labelFontSize":19,"labelColor":"#333","labelPadding":12,"ticks":false,"domain":false,"grid":false,"title":"Temperature (°C)","titleFontSize":25,"titleFontWeight":"normal","titleColor":"#333","titleX":567,"titleY":62,"titleBaseline":"middle","titleAlign":"center"}},
    "x2":{"field":"Ti2"},
    "y":{"field":"e","type":"quantitative","scale":{"domain":[0,1400],"range":[713,304],"nice":false,"zero":false},"axis":{"orient":"left","offset":-304,"values":[0,200,400,600,800,1000,1200,1400],"format":"d","labelFontSize":19,"labelColor":"#333","labelPadding":6,"tickSize":5,"tickColor":"#777","domain":false,"grid":false,"title":"Relative Permittivity","titleFontSize":25,"titleFontWeight":"normal","titleColor":"#333","titleX":-89,"titleY":508,"titleBaseline":"middle","titleAlign":"center"}},
    "y2":{"field":"e2"}
   }
  },
  {
   "data":{"name":"insetEps"},
   "mark":{"type":"line","strokeWidth":3,"strokeDash":[2.5,4],"interpolate":"monotone"},
   "encoding":{
    "x":{"field":"Ti","type":"quantitative"},
    "y":{"field":"e","type":"quantitative"},
    "color":{"field":"c","type":"nominal","scale":{"domain":["70-25-5","70-20-10","70-15-15","70-10-20","70-5-25"],"range":["#1a1a1a","#36a3e6","#2424c8","#1d5a26","#9cc83a"]},"legend":null},
    "detail":{"field":"f"}
   }
  },
  {
   "data":{"values":[{"Ti":-99.6,"e":1064,"label":"1 kHz"},{"Ti":-99.6,"e":986,"label":"10 kHz"}]},
   "mark":{"type":"text","fontSize":18,"color":"#333","align":"left","baseline":"alphabetic"},
   "encoding":{"x":{"field":"Ti","type":"quantitative"},"y":{"field":"e","type":"quantitative"},"text":{"field":"label"}}
  },
  {
   "data":{"values":[{"id":"a","Ti":-57,"e":1089},{"id":"a","Ti":-21,"e":1089},{"id":"b","Ti":-46,"e":1006},{"id":"b","Ti":-9,"e":1006}]},
   "mark":{"type":"line","color":"#888","strokeWidth":1},
   "encoding":{"x":{"field":"Ti","type":"quantitative"},"y":{"field":"e","type":"quantitative"},"detail":{"field":"id"}}
  },
  {
   "data":{"values":[{"Ti":-18.5,"e":1089},{"Ti":-6.5,"e":1006}]},
   "mark":{"type":"point","shape":"triangle-right","filled":true,"color":"#333","opacity":1,"size":45},
   "encoding":{"x":{"field":"Ti","type":"quantitative"},"y":{"field":"e","type":"quantitative"}}
  },
  {
   "data":{"values":[{"Ti":7.2,"e":450,"label":"Increasing"},{"Ti":7.2,"e":347,"label":"BZT/NN ratio"}]},
   "mark":{"type":"text","fontSize":26,"color":"#111","align":"center","baseline":"alphabetic"},
   "encoding":{"x":{"field":"Ti","type":"quantitative"},"y":{"field":"e","type":"quantitative"},"text":{"field":"label"}}
  },
  {
   "data":{"values":[{"Ti":-103.6,"e":55},{"Ti":-15,"e":268}]},
   "mark":{"type":"line","color":"#000","strokeWidth":3},
   "encoding":{"x":{"field":"Ti","type":"quantitative"},"y":{"field":"e","type":"quantitative"}}
  },
  {
   "data":{"values":[{"Ti":-10.5,"e":281}]},
   "mark":{"type":"point","shape":"triangle-right","filled":true,"color":"#000","opacity":1,"size":200,"angle":-30},
   "encoding":{"x":{"field":"Ti","type":"quantitative"},"y":{"field":"e","type":"quantitative"}}
  },
  {
   "data":{"values":[{"Ti":90,"e":455,"label":"BT-BZT-NN"}]},
   "mark":{"type":"text","fontSize":16,"color":"#333","align":"left","baseline":"alphabetic"},
   "encoding":{"x":{"field":"Ti","type":"quantitative"},"y":{"field":"e","type":"quantitative"},"text":{"field":"label"}}
  },
  {
   "data":{"values":[{"Ti":100.4,"e":385,"label":"70-25-5","c":"70-25-5"},{"Ti":100.4,"e":307,"label":"70-20-10","c":"70-20-10"},{"Ti":100.4,"e":226,"label":"70-15-15","c":"70-15-15"},{"Ti":100.4,"e":141,"label":"70-10-20","c":"70-10-20"},{"Ti":100.4,"e":62,"label":"70-5-25","c":"70-5-25"}]},
   "mark":{"type":"text","fontSize":18,"align":"left","baseline":"alphabetic"},
   "encoding":{"x":{"field":"Ti","type":"quantitative"},"y":{"field":"e","type":"quantitative"},"text":{"field":"label"},"color":{"field":"c","type":"nominal","legend":null}}
  }
 ]
},
{
 "data":{"name":"insetTan"},
 "mark":{"type":"line","strokeWidth":1.4,"strokeDash":[2,2],"opacity":0.7,"interpolate":"monotone"},
 "encoding":{
  "x":{"field":"Ti","type":"quantitative","scale":{"domain":[-200,200],"range":[304,802],"nice":false,"zero":false},"axis":null},
  "y":{"field":"t","type":"quantitative","scale":{"domain":[0,0.7],"range":[713,304],"nice":false,"zero":false},"axis":{"orient":"right","offset":-98,"values":[0,0.1,0.2,0.3,0.4,0.5,0.6,0.7],"format":".1f","labelFontSize":19,"labelColor":"#333","labelPadding":8,"tickSize":5,"tickColor":"#777","domain":false,"grid":false,"title":"tan δ","titleFontSize":25,"titleFontWeight":"normal","titleColor":"#333","titleAngle":90,"titleX":68,"titleY":508,"titleBaseline":"middle","titleAlign":"center"}},
  "color":{"field":"c","type":"nominal","scale":{"domain":["70-25-5","70-20-10","70-15-15","70-10-20","70-5-25"],"range":["#555555","#36a3e6","#2424c8","#1d5a26","#9cc83a"]},"legend":null}
 }
}
]
}
